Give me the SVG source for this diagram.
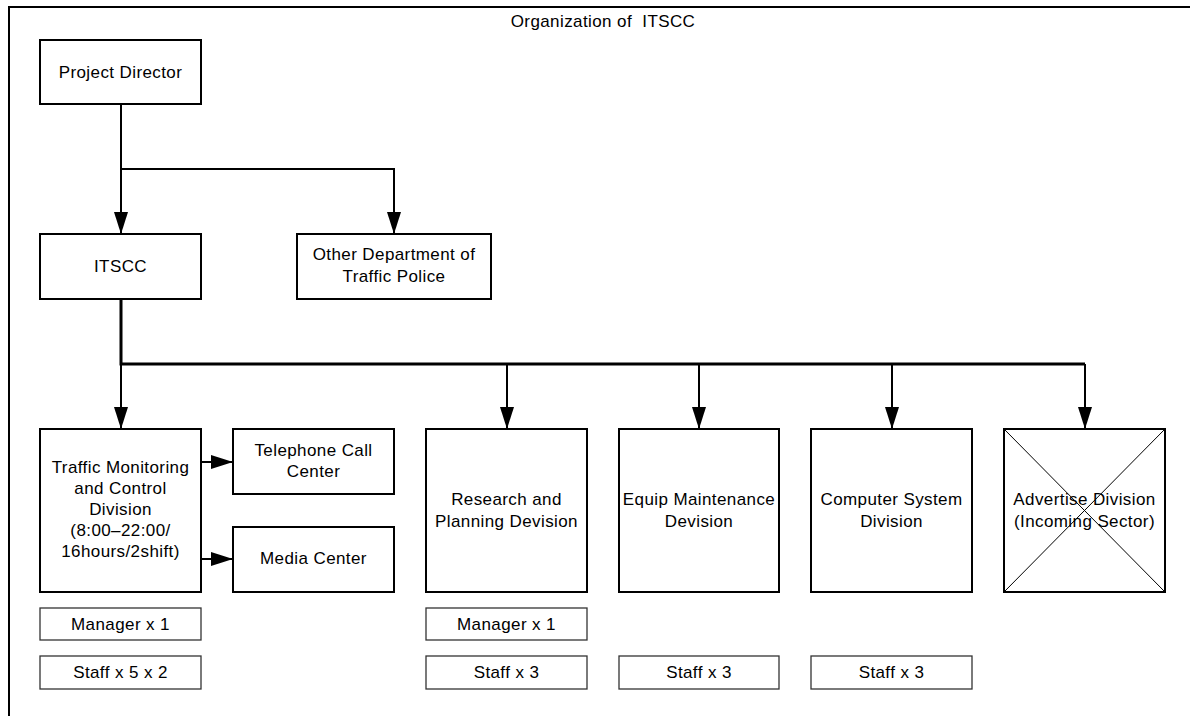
<svg xmlns="http://www.w3.org/2000/svg" width="1190" height="716" viewBox="0 0 1190 716">
  <style>
    .box { fill: #fff; stroke: #000; stroke-width: 2; }
    .sub { fill: #fff; stroke: #333; stroke-width: 1.3; }
    .lbl { font-family: "Liberation Sans", Arial, sans-serif; font-size: 17px; letter-spacing: 0.4px; fill: #000; text-anchor: middle; }
    .wire { fill: none; stroke: #000; stroke-width: 2; }
    .bus { fill: none; stroke: #000; stroke-width: 3; }
    .cross { stroke: #000; stroke-width: 1; }
  </style>
  <defs>
    <marker id="arrow" viewBox="0 0 22 14" refX="22" refY="7" markerWidth="22" markerHeight="14" markerUnits="userSpaceOnUse" orient="auto">
      <path d="M0,0 L22,7 L0,14 Z" fill="#000"/>
    </marker>
  </defs>

  <rect width="1190" height="716" fill="#fff"/>

  <!-- outer frame -->
  <path d="M9,716 L9,7 L1192,7" fill="none" stroke="#000" stroke-width="2"/>
  <text class="lbl" x="603" y="27" xml:space="preserve">Organization of  ITSCC</text>

  <!-- connectors -->
  <g id="connectors">
    <path class="wire" d="M121,104 L121,234" marker-end="url(#arrow)"/>
    <path class="wire" d="M121,169 L394,169 L394,234" marker-end="url(#arrow)"/>
    <path class="bus" d="M121,299 L121,364 L1085,364"/>
    <path class="wire" d="M121,364 L121,429" marker-end="url(#arrow)"/>
    <path class="wire" d="M507,364 L507,429" marker-end="url(#arrow)"/>
    <path class="wire" d="M699,364 L699,429" marker-end="url(#arrow)"/>
    <path class="wire" d="M892,364 L892,429" marker-end="url(#arrow)"/>
    <path class="wire" d="M1085,364 L1085,429" marker-end="url(#arrow)"/>
    <path class="wire" d="M201,462 L233,462" marker-end="url(#arrow)"/>
    <path class="wire" d="M201,559 L233,559" marker-end="url(#arrow)"/>
  </g>

  <g id="project-director">
    <rect class="box" x="40" y="40" width="161" height="64"/>
    <text class="lbl" x="120.5" y="78">Project Director</text>
  </g>

  <g id="itscc">
    <rect class="box" x="40" y="234" width="161" height="65"/>
    <text class="lbl" x="120.5" y="272">ITSCC</text>
  </g>

  <g id="other-department">
    <rect class="box" x="297" y="234" width="194" height="65"/>
    <text class="lbl" x="394" y="260">Other Department of</text>
    <text class="lbl" x="394" y="282">Traffic Police</text>
  </g>

  <g id="traffic-monitoring">
    <rect class="box" x="40" y="429" width="161" height="163"/>
    <text class="lbl" x="120.5" y="473">Traffic Monitoring</text>
    <text class="lbl" x="120.5" y="494">and Control</text>
    <text class="lbl" x="120.5" y="515">Division</text>
    <text class="lbl" x="120.5" y="536">(8:00–22:00/</text>
    <text class="lbl" x="120.5" y="557">16hours/2shift)</text>
  </g>

  <g id="telephone-call-center">
    <rect class="box" x="233" y="429" width="161" height="65"/>
    <text class="lbl" x="313.5" y="456">Telephone Call</text>
    <text class="lbl" x="313.5" y="477">Center</text>
  </g>

  <g id="media-center">
    <rect class="box" x="233" y="527" width="161" height="65"/>
    <text class="lbl" x="313.5" y="564">Media Center</text>
  </g>

  <g id="traffic-manager">
    <rect class="sub" x="40" y="608" width="161" height="32"/>
    <text class="lbl" x="120.5" y="630">Manager x 1</text>
  </g>

  <g id="traffic-staff">
    <rect class="sub" x="40" y="656" width="161" height="33"/>
    <text class="lbl" x="120.5" y="678">Staff x 5 x 2</text>
  </g>

  <g id="research-planning">
    <rect class="box" x="426" y="429" width="161" height="163"/>
    <text class="lbl" x="506.5" y="505">Research and</text>
    <text class="lbl" x="506.5" y="527">Planning Devision</text>
  </g>

  <g id="research-manager">
    <rect class="sub" x="426" y="608" width="161" height="32"/>
    <text class="lbl" x="506.5" y="630">Manager x 1</text>
  </g>

  <g id="research-staff">
    <rect class="sub" x="426" y="656" width="161" height="33"/>
    <text class="lbl" x="506.5" y="678">Staff x 3</text>
  </g>

  <g id="equip-maintenance">
    <rect class="box" x="619" y="429" width="160" height="163"/>
    <text class="lbl" x="699" y="505">Equip Maintenance</text>
    <text class="lbl" x="699" y="527">Devision</text>
  </g>

  <g id="equip-staff">
    <rect class="sub" x="619" y="656" width="160" height="33"/>
    <text class="lbl" x="699" y="678">Staff x 3</text>
  </g>

  <g id="computer-system">
    <rect class="box" x="811" y="429" width="161" height="163"/>
    <text class="lbl" x="891.5" y="505">Computer System</text>
    <text class="lbl" x="891.5" y="527">Division</text>
  </g>

  <g id="computer-staff">
    <rect class="sub" x="811" y="656" width="161" height="33"/>
    <text class="lbl" x="891.5" y="678">Staff x 3</text>
  </g>

  <g id="advertise-division">
    <rect class="box" x="1004" y="429" width="161" height="163"/>
    <text class="lbl" x="1084.5" y="505">Advertise Division</text>
    <text class="lbl" x="1084.5" y="527">(Incoming Sector)</text>
    <line class="cross" x1="1004" y1="429" x2="1165" y2="592"/>
    <line class="cross" x1="1165" y1="429" x2="1004" y2="592"/>
  </g>
</svg>
